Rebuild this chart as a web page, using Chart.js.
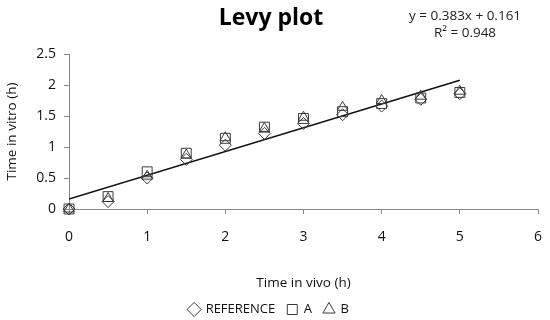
<!DOCTYPE html>
<html>
<head>
<meta charset="utf-8">
<script src="https://cdn.jsdelivr.net/npm/chart.js@4/dist/chart.umd.min.js"></script>
<style>
html,body{margin:0;padding:0;background:#fff;}
#wrap{width:550px;height:320px;position:relative;}
</style>
</head>
<body>
<div id="wrap"><canvas id="c" width="550" height="320"></canvas></div>
<script>
const timeInVivo = [0, 0.5, 1, 1.5, 2, 2.5, 3, 3.5, 4, 4.5, 5];
const referenceVals = [0, 0.12, 0.50, 0.80, 1.03, 1.22, 1.38, 1.52, 1.66, 1.77, 1.86];
const aVals = [0, 0.20, 0.60, 0.90, 1.14, 1.32, 1.46, 1.57, 1.70, 1.79, 1.88];
const bVals = [0, 0.17, 0.53, 0.87, 1.15, 1.30, 1.48, 1.64, 1.75, 1.82, 1.90];
const seriesNames = ['REFERENCE', 'A', 'B'];
const trendSlope = 0.383;
const trendIntercept = 0.161;
const trendRange = [0, 5];
const equationLines = ['y = 0.383x + 0.161', 'R\u00b2 = 0.948'];
const chartTitle = 'Levy plot';
const xTitle = 'Time in vivo (h)';
const yTitle = 'Time in vitro (h)';

const FONT = "'Open Sans', 'Liberation Sans', sans-serif";
const toPts = ys => timeInVivo.map((x, i) => ({x: x, y: ys[i]}));
const trendPts = trendRange.map(x => ({x: x, y: trendSlope * x + trendIntercept}));

const markerColor = '#3a3a3a';
function scatterSet(label, ys, style, r) {
  return {
    type: 'scatter', label: label, data: toPts(ys), clip: false,
    pointStyle: style, pointRadius: r, pointHoverRadius: r,
    borderColor: markerColor, backgroundColor: 'rgba(0,0,0,0)', borderWidth: 1
  };
}

const textPlugin = {
  id: 'texts',
  afterDraw(chart) {
    const ctx = chart.ctx;
    ctx.save();
    ctx.fillStyle = '#000';
    ctx.textAlign = 'center';
    ctx.textBaseline = 'middle';
    ctx.font = "bold 23px " + FONT;
    ctx.fillText(chartTitle, 271, 18);
    ctx.fillStyle = '#222';
    ctx.font = "13.5px " + FONT;
    ctx.fillText(equationLines[0], 465, 16);
    ctx.fillText(equationLines[1], 465, 33);
    ctx.restore();
  }
};

new Chart(document.getElementById('c'), {
  data: {
    datasets: [
      scatterSet(seriesNames[0], referenceVals, 'rectRot', 6),
      scatterSet(seriesNames[1], aVals, 'rect', 7),
      scatterSet(seriesNames[2], bVals, 'triangle', 6),
      {
        type: 'line', label: 'trend', data: trendPts,
        borderColor: '#111', borderWidth: 1.5, pointRadius: 0, fill: false
      }
    ]
  },
  options: {
    responsive: false, animation: false,
    layout: {padding: {left: 0, right: 12, top: 54, bottom: -6}},
    plugins: {
      title: {display: false},
      tooltip: {enabled: false},
      legend: {
        display: true, position: 'bottom',
        labels: {
          usePointStyle: true, boxWidth: 10, boxHeight: 10, padding: 12,
          color: '#111', font: {family: FONT, size: 13},
          filter: item => item.text !== 'trend',
          generateLabels(chart) {
            const items = Chart.defaults.plugins.legend.labels.generateLabels(chart);
            items.forEach(it => { it.lineWidth = 1; it.fillStyle = 'rgba(0,0,0,0)'; it.strokeStyle = markerColor; });
            return items;
          }
        }
      }
    },
    scales: {
      x: {
        type: 'linear', min: 0, max: 6,
        ticks: {stepSize: 1, color: '#111', font: {family: FONT, size: 14}, padding: 15,
                callback: v => String(v)},
        grid: {drawOnChartArea: false, drawTicks: true, tickLength: 5, color: '#888'},
        border: {display: true, color: '#888'},
        title: {display: true, text: xTitle, color: '#111', font: {family: FONT, size: 13.5}, padding: {top: 4, bottom: 0}},
        afterFit(s) { s.height = 82; s.paddingRight = 0; s.paddingLeft = 0; }
      },
      y: {
        type: 'linear', min: 0, max: 2.5,
        ticks: {stepSize: 0.5, color: '#111', font: {family: FONT, size: 14}, padding: 8,
                callback: v => String(v)},
        grid: {drawOnChartArea: false, drawTicks: true, tickLength: 5, color: '#888'},
        border: {display: true, color: '#888'},
        title: {display: true, text: yTitle, color: '#111', font: {family: FONT, size: 13.5}, padding: {top: 4, bottom: 0}},
        afterFit(s) { s.width = 69; }
      }
    }
  },
  plugins: [textPlugin]
});
</script>
</body>
</html>
